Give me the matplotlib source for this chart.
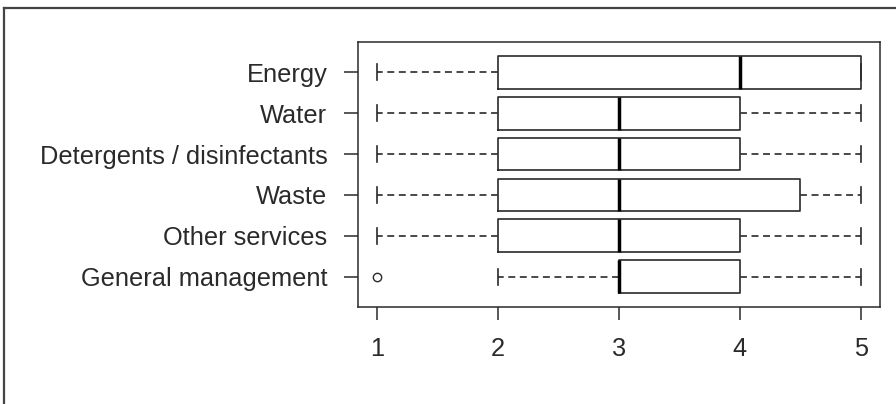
"""Horizontal box plot of ratings per area, drawn in a base-R look."""

import matplotlib
matplotlib.use('Agg')
import matplotlib.pyplot as plt
from matplotlib.lines import Line2D

# Five-number summaries per area (top row first)
categories = ['Energy', 'Water', 'Detergents / disinfectants', 'Waste',
              'Other services', 'General management']
whisker_lo = [1, 1, 1, 1, 1, 2]
q1 = [2, 2, 2, 2, 2, 3]
median = [4, 3, 3, 3, 3, 3]
q3 = [5, 4, 4, 4.5, 4, 4]
whisker_hi = [5, 5, 5, 5, 5, 5]
outliers = [[], [], [], [], [], [1]]
x_ticks = [1, 2, 3, 4, 5]

plt.rcParams['font.family'] = ['Liberation Sans', 'DejaVu Sans']
plt.rcParams['lines.scale_dashes'] = False

INK = '#2a2a2a'
FS = 18.3

fig = plt.figure(figsize=(8.96, 4.04), dpi=100)
ax = fig.add_axes([358 / 896, 1 - 307 / 404, (880 - 358) / 896, (307 - 42) / 404])

n = len(categories)
positions = list(range(n, 0, -1))
stats = []
for i, name in enumerate(categories):
    stats.append({
        'label': name,
        'whislo': whisker_lo[i],
        'q1': q1[i],
        'med': median[i],
        'q3': q3[i],
        'whishi': whisker_hi[i],
        'fliers': outliers[i],
    })

ax.bxp(stats, positions=positions, widths=0.8, capwidths=0.4,
       orientation='horizontal', showfliers=True,
       boxprops=dict(color=INK, linewidth=1.2),
       whiskerprops=dict(color='#3a3a3a', linewidth=1.3,
                         linestyle=(0, (5, 3.3))),
       capprops=dict(color=INK, linewidth=1.2),
       medianprops=dict(color='black', linewidth=2.5, solid_capstyle='butt'),
       flierprops=dict(marker='o', markersize=6.0, markerfacecolor='none',
                       markeredgecolor=INK, markeredgewidth=1.0))

ax.set_xlim(0.84, 5.16)
ax.set_ylim(0.26, n + 0.74)
ax.set_xticks(x_ticks)
ax.set_xticklabels([str(t) for t in x_ticks])
ax.set_yticks(positions)
ax.set_yticklabels(categories)

ax.tick_params(axis='y', length=10, width=1.1, color=INK, pad=12,
               labelsize=FS, labelcolor=INK)
ax.tick_params(axis='x', length=9.5, width=1.1, color=INK, pad=12,
               labelsize=FS, labelcolor=INK)
for side in ax.spines.values():
    side.set_color(INK)
    side.set_linewidth(1.1)

# frame around the whole figure (only the left and top edges fall inside)
fx = 3.5 / 896
fy = 1 - 7.5 / 404
fig.add_artist(Line2D([fx, fx], [0, fy], transform=fig.transFigure,
                      color='#444444', linewidth=1.6))
fig.add_artist(Line2D([fx, 1], [fy, fy], transform=fig.transFigure,
                      color='#444444', linewidth=1.6))

fig.savefig('out.png', dpi=100)
